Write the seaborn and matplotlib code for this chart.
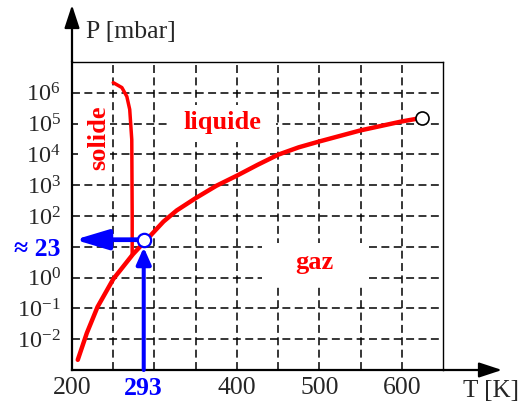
import matplotlib.patches as mpatches
import matplotlib.pyplot as plt
import numpy as np
import pandas as pd
import seaborn as sns
from matplotlib.ticker import FixedLocator, NullLocator

# liquid/vapour + solid/vapour curve (T in K, log10 of P in mbar)
T_VAP = [207, 218, 231, 250, 274, 295, 311, 327, 350, 375, 400, 425, 450, 475, 500, 550, 600, 619]
LOGP_VAP = [-2.67, -1.80, -0.95, -0.05, 0.76, 1.36, 1.82, 2.18, 2.58, 2.98, 3.31, 3.66, 3.99,
            4.23, 4.42, 4.78, 5.07, 5.16]

# solid/liquid curve
T_MELT = [250, 260.5, 266.5, 270, 272.5, 273, 273]
LOGP_MELT = [6.33, 6.17, 5.88, 5.46, 4.48, 2.0, 0.76]

# critical point
CRIT_T = 624
CRIT_LOGP = 5.19

# reading at room temperature (position as drawn, and its labels)
READ_T = 287
READ_LOGP = 1.23
READ_T_LABEL = "293"
READ_P_LABEL = "≈ 23"

X_TICKS = [200, READ_T, 400, 500, 600]
X_TICK_LABELS = ["200", READ_T_LABEL, "400", "500", "600"]
GRID_T = [250, 300, 350, 400, 450, 500, 550, 600]
Y_EXPONENTS = [-2, -1, 0, 1, 2, 3, 4, 5, 6]

RED = "#ff0000"
BLUE = "#0000ff"
DASH = (0, (5.2, 2.9))


def main() -> None:
    sns.set_theme(style="white")
    plt.rcParams["font.family"] = ["Liberation Serif", "DejaVu Serif"]
    plt.rcParams["mathtext.fontset"] = "custom"
    plt.rcParams["mathtext.rm"] = "Liberation Serif"
    plt.rcParams["mathtext.it"] = "Liberation Serif:italic"
    plt.rcParams["mathtext.bf"] = "Liberation Serif:bold"

    fig = plt.figure(figsize=(5.23, 4.05), dpi=100)
    ax = fig.add_axes([72 / 523, 35 / 405, 371 / 523, 308 / 405])
    ax.set_yscale("log")
    ax.set_xlim(200, 650)
    ax.set_ylim(1e-3, 1e7)

    vap = pd.DataFrame({"T": T_VAP, "P": 10.0 ** np.array(LOGP_VAP)})
    melt = pd.DataFrame({"T": T_MELT, "P": 10.0 ** np.array(LOGP_MELT)})
    sns.lineplot(data=vap, x="T", y="P", sort=False, estimator=None,
                 color=RED, lw=3.2, ax=ax, zorder=3)
    sns.lineplot(data=melt, x="T", y="P", sort=False, estimator=None,
                 color=RED, lw=2.5, ax=ax, zorder=3)

    # dashed grid every 50 K and every decade
    ax.set_axisbelow(True)
    ax.xaxis.set_minor_locator(FixedLocator(GRID_T))
    ax.xaxis.remove_overlapping_locs = False
    ax.yaxis.set_minor_locator(NullLocator())
    ax.xaxis.grid(True, which="minor", color="black", lw=1.1, ls=DASH)
    ax.xaxis.grid(False, which="major")
    ax.yaxis.grid(True, which="major", color="black", lw=1.1, ls=DASH)

    ax.set_xticks(X_TICKS, labels=X_TICK_LABELS)
    y_ticks = [10.0 ** e for e in Y_EXPONENTS]
    y_labels = [READ_P_LABEL if e == 1 else rf"$10^{{{e}}}$" for e in Y_EXPONENTS]
    ax.set_yticks(y_ticks, labels=y_labels)
    ax.tick_params(axis="both", which="both", length=0)
    ax.tick_params(axis="x", labelsize=18.5, pad=5)
    ax.tick_params(axis="y", labelsize=17.5, pad=8)
    for lab in ax.get_xticklabels():
        if lab.get_text() == READ_T_LABEL:
            lab.set_color(BLUE)
            lab.set_fontweight("bold")
    for lab in ax.get_yticklabels():
        if lab.get_text() == READ_P_LABEL:
            lab.set_color(BLUE)
            lab.set_fontweight("bold")
            lab.set_fontsize(18.5)
    ax.set_xlabel("")
    ax.set_ylabel("")

    for side in ["top", "right"]:
        ax.spines[side].set_linewidth(1.0)
        ax.spines[side].set_color("black")
    for side in ["left", "bottom"]:
        ax.spines[side].set_linewidth(1.6)
        ax.spines[side].set_color("black")

    # axis arrows beyond the frame
    head = "-|>,head_length=14,head_width=4.6"
    ax.annotate("", xy=(0, 1.185), xytext=(0, 1), xycoords="axes fraction",
                arrowprops=dict(arrowstyle=head, lw=1.6, color="black",
                                mutation_scale=1, shrinkA=0, shrinkB=0))
    ax.annotate("", xy=(1.159, 0), xytext=(1, 0), xycoords="axes fraction",
                arrowprops=dict(arrowstyle=head, lw=1.6, color="black",
                                mutation_scale=1, shrinkA=0, shrinkB=0))

    # white boxes behind the region names
    boxes = [(207, 246, 10 ** 3.31, 10 ** 5.78),
             (319, 448, 10 ** 4.41, 10 ** 5.62),
             (430, 559, 10 ** -0.24, 10 ** 1.13)]
    for x0, x1, y0, y1 in boxes:
        ax.add_patch(mpatches.Rectangle((x0, y0), x1 - x0, y1 - y0,
                                        facecolor="white", edgecolor="none", zorder=1.5))

    ax.text(233, 10 ** 4.54, "solide", color=RED, fontsize=19, fontweight="bold",
            rotation=90, ha="center", va="center", zorder=4)
    ax.text(383, 10 ** 5.03, "liquide", color=RED, fontsize=19, fontweight="bold",
            ha="center", va="center", zorder=4)
    ax.text(494, 10 ** 0.48, "gaz", color=RED, fontsize=19, fontweight="bold",
            ha="center", va="center", zorder=4)

    # reading arrows
    read_p = 10.0 ** READ_LOGP
    ax.annotate("", xy=(203.5, read_p), xytext=(READ_T, read_p), xycoords="data",
                arrowprops=dict(arrowstyle="-|>,head_length=20,head_width=6",
                                lw=3.4, color=BLUE, mutation_scale=1,
                                shrinkA=4, shrinkB=0), zorder=4)
    ax.annotate("", xy=(READ_T, read_p), xytext=(READ_T, 1e-3), xycoords="data",
                arrowprops=dict(arrowstyle="-|>,head_length=10,head_width=4.4",
                                lw=2.9, color=BLUE, mutation_scale=1,
                                shrinkA=0, shrinkB=5.5), zorder=4)

    sns.scatterplot(x=[READ_T], y=[read_p], s=9.6 ** 2, color="white",
                    edgecolor=BLUE, linewidth=1.6, ax=ax, zorder=6)
    sns.scatterplot(x=[CRIT_T], y=[10.0 ** CRIT_LOGP], s=9.4 ** 2, color="white",
                    edgecolor="black", linewidth=1.2, ax=ax, zorder=6)

    fig.text(86 / 523, 1 - 32 / 405, "P [mbar]", fontsize=18.5, va="center", ha="left")
    fig.text(519 / 523, 1 - 391 / 405, "T [K]", fontsize=18, va="center", ha="right")

    fig.savefig("out.png", dpi=100)
    plt.close(fig)


if __name__ == "__main__":
    main()
